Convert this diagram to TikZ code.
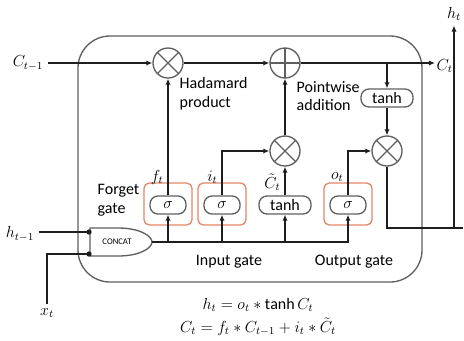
\documentclass[tikz,border=0pt]{standalone}
\usepackage{fontspec}
\setmainfont{Carlito}
\usepackage{tikz}
\usetikzlibrary{arrows.meta, positioning}
\definecolor{figgray}{RGB}{95,95,95}
\definecolor{figline}{RGB}{30,30,30}
\definecolor{figorange}{RGB}{226,135,105}
\tikzstyle{arrow} = [-{Latex[length=1.6mm, width=1.4mm]}, line width=1.4pt, draw=figline]
\tikzstyle{wire} = [line width=1.4pt, draw=figline]
\tikzstyle{opcirc} = [circle, draw=figgray, line width=1pt, minimum size=22.5pt, inner sep=0pt]
\tikzstyle{mulop} = [opcirc, path picture={
    \draw[figgray, line width=1pt]
        (path picture bounding box.north west) -- (path picture bounding box.south east)
        (path picture bounding box.north east) -- (path picture bounding box.south west);}]
\tikzstyle{addop} = [opcirc, path picture={
    \draw[figgray, line width=1pt]
        (path picture bounding box.north) -- (path picture bounding box.south)
        (path picture bounding box.west) -- (path picture bounding box.east);}]
\tikzstyle{actbox} = [draw=figgray, line width=1pt, rounded corners=6pt, minimum height=13.5pt, inner sep=1pt]
\tikzstyle{gatebox} = [draw=figorange, line width=1pt, rounded corners=4pt, minimum width=36pt, minimum height=31.5pt]
\tikzstyle{gatelab} = [anchor=east, inner sep=1pt]

\begin{document}
\begin{tikzpicture}[x=0.75pt, y=-0.75pt, font=\fontsize{12}{14}\selectfont]
    \useasboundingbox (0,0) rectangle (464,340);

    % cell outline
    \draw[figgray, line width=1pt, rounded corners=24pt] (78,36) rectangle (422,282);

    % cell state
    \node (cprev) at (28,63) {$C_{t-1}$};
    \node[mulop] (mulf) at (168,63) {};
    \node[addop] (addc) at (285,63) {};
    \node[anchor=west, inner sep=1pt] (cnext) at (435,66) {$C_t$};
    \draw[arrow] (cprev) -- (mulf);
    \draw[arrow] (mulf) -- (addc);
    \draw[arrow] (addc) -- (cnext.west |- addc);
    \node[anchor=west, align=left] (hadlab) at (175,94) {Hadamard\\product};
    \node[anchor=west, align=left] (addlab) at (292,96) {Pointwise\\addition};

    % output branch
    \node[actbox, minimum width=39pt] (tanhc) at (387,98) {tanh};
    \node[mulop] (mulo) at (387,151) {};
    \node (hnext) at (454,14) {$h_t$};
    \coordinate (hout) at (463,228);
    \draw[arrow] (tanhc.north |- addc) -- (tanhc);
    \draw[arrow] (tanhc) -- (mulo);
    \draw[wire] (mulo) |- (hout);
    \draw[arrow] (hnext.south |- hout) -- (hnext);

    % gates
    \node[gatebox] (gf) at (168,204) {};
    \node[gatebox] (gi) at (222,204) {};
    \node[gatebox] (go) at (348,204) {};
    \node[actbox, minimum width=27pt] (sigf) at (168,205) {$\sigma$};
    \node[actbox, minimum width=27pt] (sigi) at (222,205) {$\sigma$};
    \node[actbox, minimum width=39pt] (tanhi) at (285,205) {tanh};
    \node[actbox, minimum width=27pt] (sigo) at (348,205) {$\sigma$};
    \node[mulop] (muli) at (285,151) {};
    \node[gatelab] (flab) at (165,177) {$f_t$};
    \node[gatelab] (ilab) at (219,177) {$i_t$};
    \node[gatelab] (clab) at (282,182) {$\tilde{C}_t$};
    \node[gatelab] (olab) at (345,177) {$o_t$};
    \draw[arrow] (sigf) -- (mulf);
    \draw[arrow] (sigi) |- (muli);
    \draw[arrow] (tanhi) -- (muli);
    \draw[arrow] (muli) -- (addc);
    \draw[arrow] (sigo) |- (mulo);
    \node[anchor=west, align=left] (forlab) at (93,200) {Forget\\gate};
    \node (inlab) at (229,262) {Input gate};
    \node (outlab) at (354,262) {Output gate};

    % concat and inputs
    \draw[figgray, line width=1pt, fill=white] (90,228) -- (118,228)
        .. controls (140,228) and (152,236) .. (152,242)
        .. controls (152,248) and (140,256) .. (118,256) -- (90,256) -- cycle;
    \node[font=\fontsize{6.5}{7}\selectfont] (concat) at (117,242) {CONCAT};
    \coordinate (catout) at (152,242);
    \draw[arrow] (catout) -| (sigo);
    \draw[arrow] (sigf.south |- catout) -- (sigf);
    \draw[arrow] (sigi.south |- catout) -- (sigi);
    \draw[arrow] (tanhi.south |- catout) -- (tanhi);
    \node (hprev) at (20,234) {$h_{t-1}$};
    \node (xin) at (47,313) {$x_t$};
    \coordinate (hdot) at (89,232);
    \coordinate (xdot) at (89,254);
    \draw[wire] (hprev.east |- hdot) -- (hdot);
    \draw[wire] (xin) |- (xdot);
    \fill[figline] (hdot) circle (2pt) (xdot) circle (2pt);

    % equations
    \node[align=center] (eqs) at (258,317)
        {$h_t = o_t \ast \tanh C_t$\\[3pt]$C_t = f_t \ast C_{t-1} + i_t \ast \tilde{C}_t$};
\end{tikzpicture}
\end{document}
